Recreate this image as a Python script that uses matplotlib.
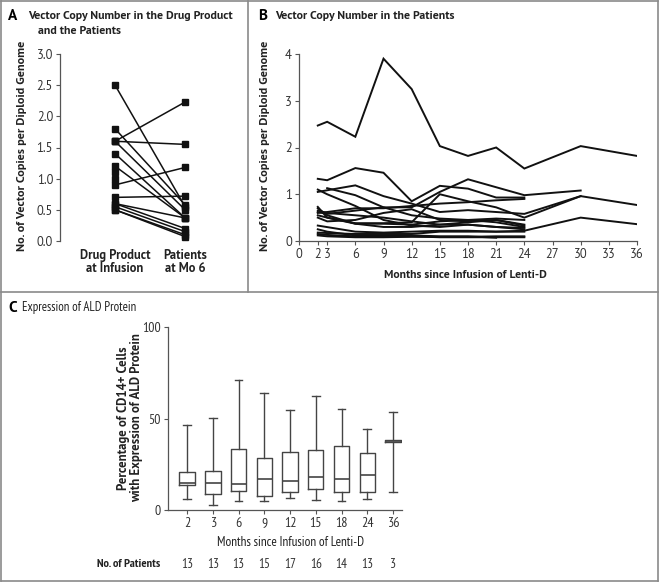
import numpy as np
import matplotlib
matplotlib.use("Agg")
import matplotlib.pyplot as plt
from matplotlib.lines import Line2D

MAIN = ["PT Sans", "Lato", "DejaVu Sans"]
NARROW = ["PT Sans Narrow", "Fira Sans Condensed", "Roboto Condensed",
          "Encode Sans Condensed", "DejaVu Sans"]
plt.rcParams["font.family"] = MAIN

# ---- Panel A: vector copy number, drug product vs patients at month 6
a_labels = ["Drug Product\nat Infusion", "Patients\nat Mo 6"]
a_drug = [2.5, 1.8, 1.6, 1.6, 1.6, 1.4, 1.2, 0.9, 0.7, 0.6, 0.6, 0.55, 0.5, 0.5, 1.1, 1.0]
a_mo6 = [0.55, 0.58, 2.23, 1.55, 0.5, 0.37, 0.37, 1.18, 0.72, 0.37, 0.2, 0.15, 0.1, 0.07, np.nan, np.nan]

# ---- Panel B: vector copy number over time
b_months = [2, 3, 6, 9, 12, 15, 18, 21, 24, 30, 36]
nan = np.nan
b_series = [
    [2.47, 2.55, 2.23, 3.9, 3.25, 2.03, 1.82, 2.0, 1.55, 2.03, 1.82],
    [1.33, 1.3, 1.56, 1.46, 0.85, 1.18, 1.12, 0.93, 0.93, nan, nan],
    [1.05, nan, 1.19, 0.96, 0.8, 0.62, 0.66, nan, 0.58, 0.96, 0.77],
    [1.1, 1.0, 0.75, 0.45, 0.33, 0.3, 0.35, 0.3, 0.25, nan, nan],
    [nan, 1.13, 0.98, 0.72, 0.55, 0.48, 0.45, 0.48, 0.45, nan, nan],
    [0.62, 0.58, 0.65, 0.72, 0.72, 1.05, 1.32, 1.15, 0.98, 1.08, nan],
    [0.6, 0.62, 0.7, 0.7, 0.75, 0.8, 0.83, 0.87, 0.9, nan, nan],
    [0.73, 0.5, 0.38, 0.38, 0.4, 1.0, 0.85, 0.72, 0.5, 0.96, nan],
    [0.5, 0.42, 0.45, 0.6, 0.68, 0.45, 0.42, 0.45, 0.35, nan, nan],
    [0.33, nan, 0.2, 0.18, 0.2, 0.22, 0.22, 0.2, 0.22, 0.5, 0.36],
    [0.25, 0.2, 0.12, 0.12, 0.12, 0.1, 0.1, 0.07, nan, nan, nan],
    [0.15, 0.13, 0.1, 0.1, 0.1, 0.08, 0.08, 0.08, 0.08, nan, nan],
    [0.12, 0.1, 0.08, 0.08, 0.09, 0.09, 0.09, 0.1, 0.1, nan, nan],
    [0.18, 0.17, 0.15, 0.15, 0.15, 0.2, 0.2, 0.2, 0.2, nan, nan],
    [0.7, 0.55, 0.37, 0.37, 0.35, 0.42, 0.45, 0.4, 0.3, nan, nan],
    [0.65, 0.6, 0.55, 0.5, 0.42, 0.35, 0.4, 0.45, 0.33, nan, nan],
    [0.55, 0.5, 0.37, 0.3, 0.3, 0.35, 0.35, 0.3, 0.28, nan, nan],
]

# ---- Panel C: ALD protein expression (box plots)
c_months = ["2", "3", "6", "9", "12", "15", "18", "24", "36"]
c_whislo = [6.0, 2.7, 5.0, 4.7, 6.7, 5.6, 4.7, 6.2, 10.0]
c_q1 = [13.6, 8.7, 10.5, 7.8, 9.6, 11.3, 9.6, 10.0, 37.2]
c_med = [14.5, 14.5, 14.2, 16.9, 16.0, 18.0, 16.7, 18.9, 37.7]
c_q3 = [21.0, 21.5, 33.6, 28.2, 31.5, 32.7, 35.1, 30.9, 38.3]
c_whishi = [46.5, 50.5, 71.3, 64.0, 54.4, 62.4, 55.0, 44.5, 53.3]
c_patients = [13, 13, 13, 15, 17, 16, 14, 13, 3]

W, H = 660, 583
fig = plt.figure(figsize=(W / 100, H / 100), dpi=100)


def rect(l, t, r, b):
    return [l / W, 1 - b / H, (r - l) / W, (b - t) / H]


def ftext(x, y, s, **kw):
    fig.text(x / W, 1 - y / H, s, **kw)


AX_COL = "#555555"


def style_axes(ax, size=9):
    for sp in ["top", "right"]:
        ax.spines[sp].set_visible(False)
    for sp in ["left", "bottom"]:
        ax.spines[sp].set_color(AX_COL)
        ax.spines[sp].set_linewidth(0.9)
    ax.tick_params(colors=AX_COL, labelcolor="#333333", labelsize=size,
                   length=3, width=0.8, direction="out", pad=2)


# ---------------- Panel A
axA = fig.add_axes(rect(60, 54, 230, 241))
style_axes(axA)
axA.spines["bottom"].set_visible(False)
for d, m in zip(a_drug, a_mo6):
    if np.isnan(m):
        axA.plot([0], [d], "s", color="#111111", ms=4.5)
    else:
        axA.plot([0, 1], [d, m], "-s", color="#111111", lw=1.1, ms=4.5)
axA.set_xlim(-0.786, 1.64)
axA.set_ylim(0, 3.0)
axA.set_yticks(np.arange(0, 3.01, 0.5))
axA.set_yticklabels([f"{v:.1f}" for v in np.arange(0, 3.01, 0.5)])
axA.set_xticks([0, 1])
axA.set_xticklabels(a_labels, fontsize=9, fontweight="bold", linespacing=1.0,
                    color="#222222")
axA.tick_params(axis="x", length=0, pad=6)
axA.patch.set_alpha(0)
ftext(22, 146, "No. of Vector Copies per Diploid Genome", rotation=90,
      ha="center", va="center", fontsize=8.8, fontweight="bold", color="#222222")

# ---------------- Panel B
axB = fig.add_axes(rect(299, 54, 637, 241))
style_axes(axB)
for s in b_series:
    y = np.array(s, dtype=float)
    x = np.array(b_months, dtype=float)
    ok = ~np.isnan(y)
    axB.plot(x[ok], y[ok], "-", color="#111111", lw=1.4, solid_joinstyle="miter")
axB.set_xlim(0, 36)
axB.set_ylim(0, 4)
axB.set_yticks([0, 1, 2, 3, 4])
axB.set_xticks([0, 2, 3, 6, 9, 12, 15, 18, 21, 24, 27, 30, 33, 36])
axB.patch.set_alpha(0)
ftext(265, 146, "No. of Vector Copies per Diploid Genome", rotation=90,
      ha="center", va="center", fontsize=8.8, fontweight="bold", color="#222222")
ftext(465, 275, "Months since Infusion of Lenti-D", ha="center", va="center",
      fontsize=8.5, fontweight="bold", color="#222222")

# ---------------- Panel C
axC = fig.add_axes(rect(168, 327, 402, 510))
style_axes(axC, size=10)
stats = []
for i in range(len(c_months)):
    stats.append(dict(med=c_med[i], q1=c_q1[i], q3=c_q3[i],
                      whislo=c_whislo[i], whishi=c_whishi[i], fliers=[]))
pos = np.arange(len(c_months))
axC.bxp(stats, positions=pos, widths=0.6, showfliers=False,
        boxprops=dict(color="#444444", lw=1.0),
        whiskerprops=dict(color="#444444", lw=1.0),
        capprops=dict(color="#444444", lw=1.0),
        medianprops=dict(color="#444444", lw=1.2))
axC.set_xlim(-0.74, 8.35)
axC.set_ylim(0, 100)
axC.set_yticks([0, 50, 100])
axC.set_xticks(pos)
axC.set_xticklabels(c_months)
for lab in axC.get_xticklabels() + axC.get_yticklabels():
    lab.set_family(NARROW)
axC.patch.set_alpha(0)
ftext(130, 418, "Percentage of CD14+ Cells\nwith Expression of ALD Protein",
      rotation=90, ha="center", va="center", fontsize=9.2, fontweight="bold",
      linespacing=1.1, color="#222222")
ftext(291, 543, "Months since Infusion of Lenti-D", ha="center", va="center",
      fontsize=9.5, family=NARROW, color="#222222")
ftext(160, 564, "No. of Patients", ha="right", va="center", fontsize=8.8,
      fontweight="bold", family=NARROW, color="#222222")
for p, n in zip(pos, c_patients):
    xf = axC.transData.transform((p, 0))[0] / fig.dpi / fig.get_figwidth()
    fig.text(xf, 1 - 564 / H, str(n), ha="center", va="center", fontsize=9.5,
             color="#333333", family=NARROW)

# ---------------- Titles
ftext(8, 16, "A", fontsize=11, fontweight="bold", va="center")
ftext(28, 16, "Vector Copy Number in the Drug Product", fontsize=8.6,
      fontweight="bold", va="center", color="#222222")
ftext(38, 31, "and the Patients", fontsize=8.6, fontweight="bold", va="center",
      color="#222222")
ftext(258, 16, "B", fontsize=11, fontweight="bold", va="center")
ftext(275, 16, "Vector Copy Number in the Patients", fontsize=8.6,
      fontweight="bold", va="center", color="#222222")
ftext(8, 308, "C", fontsize=11, fontweight="bold", va="center")
ftext(22, 308, "Expression of ALD Protein", fontsize=9.2,
      va="center", family=NARROW, color="#222222")

# ---------------- Panel borders
BORDER = "#8a8a8a"
def fline(x0, y0, x1, y1):
    fig.add_artist(Line2D([x0 / W, x1 / W], [1 - y0 / H, 1 - y1 / H],
                          color=BORDER, lw=1.2))

fline(1, 1, 658, 1)
fline(1, 581, 658, 581)
fline(1, 1, 1, 581)
fline(658, 1, 658, 581)
fline(248, 1, 248, 292)
fline(1, 292, 658, 292)

fig.savefig("out.png", dpi=100)
